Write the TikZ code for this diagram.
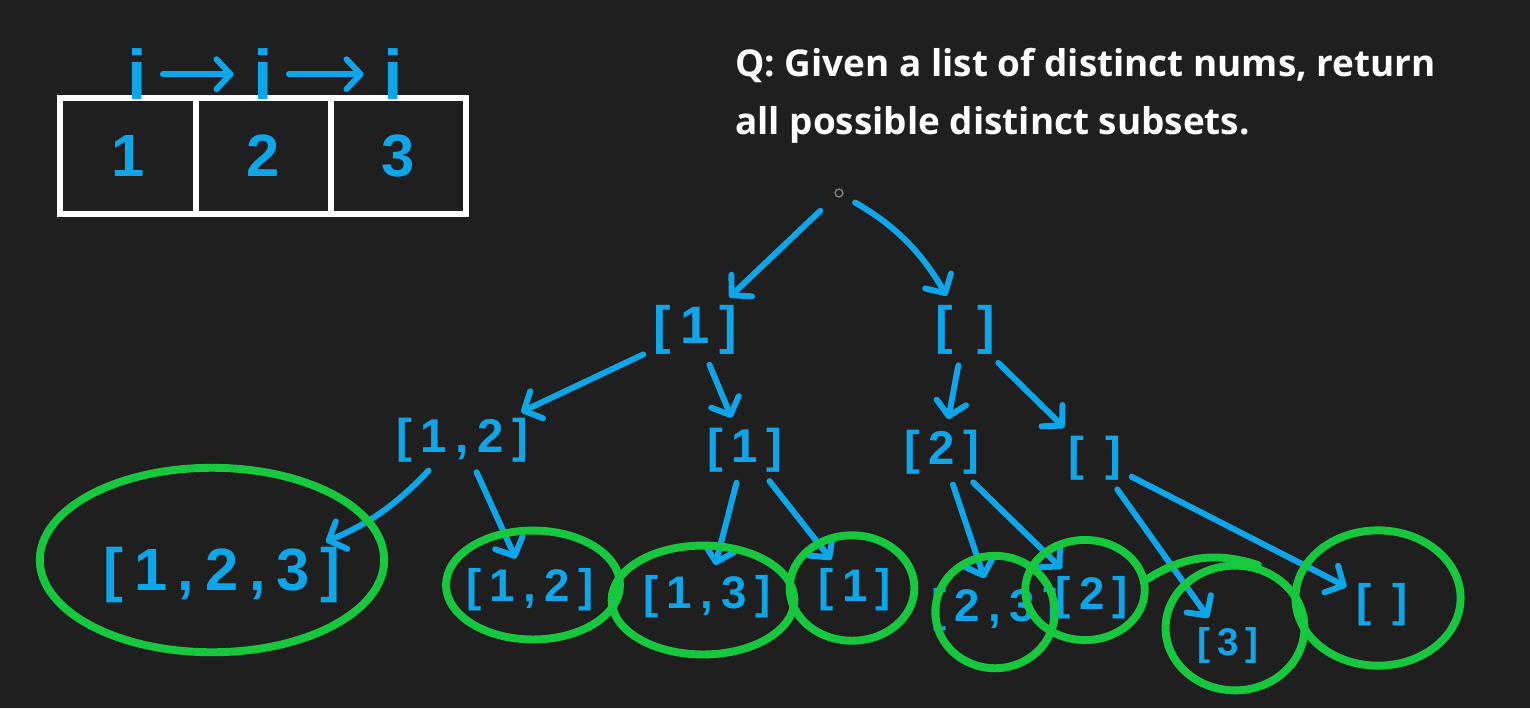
\documentclass[tikz,border=0pt]{standalone}
\usepackage{fontspec}
\setmainfont{Open Sans}
\newfontfamily\handfont[LetterSpace=18]{Liberation Sans Bold}
\usetikzlibrary{arrows.meta, positioning, shapes.geometric}
\definecolor{boardBg}{HTML}{1F1F1F}
\definecolor{penBlue}{HTML}{0EA5E9}
\definecolor{penGreen}{HTML}{17C83F}

\tikzset{
  set/.style={text=penBlue, inner sep=1pt, font=\handfont\fontsize{#1}{#1}\selectfont},
  set/.default=27,
  edge/.style={penBlue, line width=3.4pt, line cap=round,
    -{Straight Barb[length=8pt,width=17pt,round]}, shorten <=5pt, shorten >=5pt},
  ring/.style={ellipse, draw=penGreen, line width=4.5pt, inner sep=0pt},
  cell/.style={draw=white, line width=3.4pt, minimum width=77pt, minimum height=66pt,
    outer sep=0pt, text=penBlue, font=\handfont\fontsize{34}{34}\selectfont},
  pointer/.style={text=penBlue, inner sep=0pt, font=\handfont\fontsize{40}{40}\selectfont},
}

\begin{document}
\begin{tikzpicture}[x=0.02cm, y=-0.02cm]
  \useasboundingbox (0,0) rectangle (1530,708);
  \fill[boardBg] (0,0) rectangle (1530,708);

  % the input array
  \node[cell] (cell1) at (128,156) {1};
  \node[cell, right=0pt of cell1] (cell2) {2};
  \node[cell, right=0pt of cell2] (cell3) {3};
  \node[pointer, anchor=south] (i1) at (137,100) {i};
  \node[pointer, anchor=south] (i2) at (263,100) {i};
  \node[pointer, anchor=south] (i3) at (393,100) {i};
  \draw[edge, shorten <=9pt, shorten >=11pt] (i1) -- (i2);
  \draw[edge, shorten <=9pt, shorten >=11pt] (i2) -- (i3);

  \node[anchor=north west, align=left, inner sep=0pt, text=white,
        font=\bfseries\fontsize{21}{33}\selectfont] (question) at (735,48)
        {Q: Given a list of distinct nums, return\\all possible distinct subsets.};

  % decision tree
  \node[circle, draw=gray, line width=0.8pt, minimum size=4.5pt, inner sep=0pt] (root) at (839,193) {};
  \node[set=30] (a) at (695,330) {[1]};
  \node[set=30] (b) at (965,330) {[\ ]};
  \node[set] (aa) at (462,440) {[1,2]};
  \node[set] (ab) at (745,450) {[1]};
  \node[set] (ba) at (942,452) {[2]};
  \node[set] (bb) at (1095,458) {[\ ]};
  \node[set=34] (aaa) at (222,575) {[1,2,3]};
  \node[set=26] (aab) at (530,590) {[1,2]};
  \node[set=26] (aba) at (707,597) {[1,3]};
  \node[set=26] (abb) at (855,590) {[1]};
  \node[set=26] (baa) at (995,610) {[2,3]};
  \node[set=26] (bab) at (1092,598) {[2]};
  \node[set=22] (bba) at (1228,645) {[3]};
  \node[set=26] (bbb) at (1382,605) {[\ ]};

  \draw[edge, shorten <=12pt] (root) -- (a);
  \draw[edge, shorten <=8pt] (root) to[bend left=15] (b);
  \draw[edge] (a) -- (aa);
  \draw[edge] (a) -- (ab);
  \draw[edge] (b) -- (ba);
  \draw[edge] (b) -- (bb);
  \draw[edge] (aa) to[bend left=12] (aaa);
  \draw[edge] (aa) -- (aab);
  \draw[edge] (ab) -- (aba);
  \draw[edge] (ab) -- (abb);
  \draw[edge] (ba) -- (baa);
  \draw[edge] (ba) -- (bab);
  \draw[edge] (bb) -- (bba);
  \draw[edge] (bb) -- (bbb);

  % circled results
  \node[ring, minimum width=196pt, minimum height=105pt] (ring1) at (212,560) {};
  \node[ring, minimum width=99pt, minimum height=62pt] (ring2) at (533,585) {};
  \node[ring, minimum width=104pt, minimum height=62pt] (ring3) at (703,600) {};
  \node[ring, minimum width=71pt, minimum height=60pt] (ring4) at (852,588) {};
  \node[ring, minimum width=68pt, minimum height=64pt] (ring5) at (995,612) {};
  \node[ring, minimum width=68pt, minimum height=57pt] (ring6) at (1085,590) {};
  \node[ring, minimum width=79pt, minimum height=71pt] (ring7) at (1235,628) {};
  \node[ring, minimum width=94pt, minimum height=77pt] (ring8) at (1378,598) {};
  \draw[draw=penGreen, line width=4.5pt, line cap=round] (ring6.10) to[bend left=25] (ring7.70);
\end{tikzpicture}
\end{document}
